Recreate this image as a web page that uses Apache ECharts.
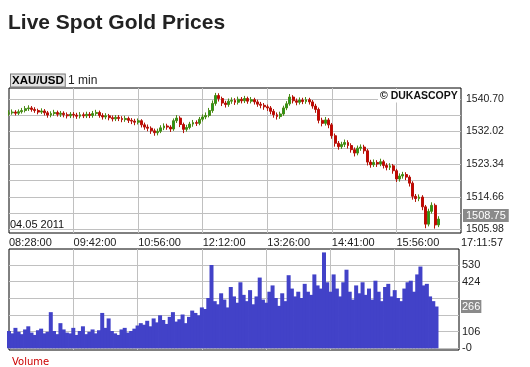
<!DOCTYPE html>
<html><head><meta charset="utf-8">
<script src="https://cdn.jsdelivr.net/npm/echarts@6/dist/echarts.min.js"></script>
<style>
html,body{margin:0;padding:0;background:#fff}
#wrap{position:relative;width:530px;height:367px}
#top{position:absolute;left:0;top:0;width:530px;height:248px}
#vol{position:absolute;left:0;top:248px;width:530px;height:119px}
</style>
</head><body><div id="wrap"><div id="top"></div><div id="vol"></div></div>
<script>
// ---- data ----
const timeLabels = ['08:28:00','09:42:00','10:56:00','12:12:00','13:26:00','14:41:00','15:56:00','17:11:57'];
const slotsPerLabel = 20;           // candles between two time labels
const priceGrid = [1505.98,1510.32,1514.66,1519.00,1523.34,1527.68,1532.02,1536.36,1540.70];
const priceLabels = ['1505.98','1514.66','1523.34','1532.02','1540.70'];
const volumeGrid = [0,106,212,318,424,530];
const volumeLabels = {'530':'530','424':'424','106':'106','0':'-0'};
const lastPrice = 1508.75;
const lastVolume = 266;
const dateText = '04.05 2011';

// [open, close, low, high]
const ohlc = [
[1536.8,1537.0,1536.2,1537.7],[1537.0,1537.2,1536.5,1537.9],[1537.2,1536.9,1536.3,1537.7],[1536.9,1537.3,1536.4,1537.9],
[1537.3,1537.6,1536.8,1538.3],[1537.6,1538.1,1537.1,1538.8],[1538.1,1538.3,1537.5,1539.0],[1538.3,1537.9,1537.3,1538.8],
[1537.9,1537.6,1537.0,1538.5],[1537.6,1537.2,1536.6,1538.1],[1537.2,1537.5,1536.7,1538.2],[1537.5,1537.0,1536.3,1538.0],
[1537.0,1536.4,1535.7,1537.5],[1536.4,1536.8,1535.8,1537.4],[1536.8,1537.1,1536.2,1537.8],[1537.1,1536.6,1536.0,1537.6],
[1536.6,1536.9,1535.9,1537.5],[1536.9,1536.5,1535.8,1537.4],[1536.5,1536.2,1535.5,1537.1],[1536.2,1536.6,1535.6,1537.2],
[1536.6,1536.4,1535.7,1537.2],[1536.4,1536.1,1535.4,1537.0],[1536.1,1536.5,1535.5,1537.2],[1536.5,1536.2,1535.6,1537.1],
[1536.2,1536.6,1535.6,1537.3],[1536.6,1536.3,1535.6,1537.2],[1536.3,1536.8,1535.7,1537.5],[1536.8,1537.1,1536.2,1537.8],
[1537.1,1536.3,1535.7,1537.6],[1536.3,1535.9,1535.2,1536.9],[1535.9,1536.2,1535.3,1536.9],[1536.2,1535.7,1535.0,1536.7],
[1535.7,1535.4,1534.7,1536.3],[1535.4,1535.8,1534.8,1536.4],[1535.8,1535.5,1534.8,1536.4],[1535.5,1535.2,1534.5,1536.1],
[1535.2,1535.5,1534.6,1536.2],[1535.5,1535.0,1534.3,1536.0],[1535.0,1534.8,1534.0,1535.6],[1534.8,1534.5,1533.7,1535.4],
[1534.5,1534.9,1533.9,1535.5],[1534.9,1533.8,1533.1,1535.3],[1533.8,1533.2,1532.5,1534.4],[1533.2,1532.9,1532.1,1533.9],
[1532.9,1532.2,1531.4,1533.4],[1532.2,1531.7,1530.9,1532.8],[1531.7,1532.1,1531.0,1532.8],[1532.1,1533.0,1531.6,1533.7],
[1533.0,1533.5,1532.4,1534.2],[1533.5,1533.2,1532.5,1534.1],[1533.2,1532.7,1531.9,1533.7],[1532.7,1534.9,1532.2,1535.5],
[1534.9,1535.6,1534.3,1536.4],[1535.6,1533.9,1533.2,1536.1],[1533.9,1532.6,1531.6,1534.4],[1532.6,1533.1,1532.0,1533.8],
[1533.1,1534.0,1532.6,1534.6],[1534.0,1534.4,1533.3,1535.1],[1534.4,1534.2,1533.5,1535.0],[1534.2,1535.3,1533.7,1535.9],
[1535.3,1535.9,1534.7,1536.6],[1535.9,1536.3,1535.3,1537.1],[1536.3,1537.6,1535.8,1538.3],[1537.6,1539.5,1537.0,1540.3],
[1539.5,1541.6,1538.9,1542.3],[1541.6,1540.8,1540.0,1542.2],[1540.8,1539.6,1538.8,1541.3],[1539.6,1539.2,1538.4,1540.2],
[1539.2,1540.1,1538.6,1540.8],[1540.1,1540.3,1539.4,1541.1],[1540.3,1539.8,1539.1,1540.9],[1539.8,1540.6,1539.2,1541.3],
[1540.6,1540.2,1539.5,1541.2],[1540.2,1540.8,1539.6,1541.5],[1540.8,1540.1,1539.4,1541.3],[1540.1,1540.5,1539.5,1541.2],
[1540.5,1539.9,1539.2,1541.0],[1539.9,1539.3,1538.6,1540.5],[1539.3,1539.0,1538.2,1539.9],[1539.0,1538.6,1537.8,1539.6],
[1538.6,1538.3,1537.5,1539.2],[1538.3,1537.4,1536.6,1538.8],[1537.4,1536.5,1535.7,1538.0],[1536.5,1536.0,1535.2,1537.1],
[1536.0,1536.7,1535.4,1537.3],[1536.7,1538.3,1536.2,1538.9],[1538.3,1539.4,1537.7,1540.1],[1539.4,1541.2,1538.9,1542.0],
[1541.2,1540.2,1539.5,1541.7],[1540.2,1539.8,1539.0,1540.8],[1539.8,1540.4,1539.2,1541.1],[1540.4,1540.0,1539.3,1541.0],
[1540.0,1540.5,1539.4,1541.2],[1540.5,1539.9,1539.2,1541.0],[1539.9,1538.8,1538.1,1540.4],[1538.8,1537.9,1537.0,1539.4],
[1537.9,1535.0,1534.2,1538.4],[1535.0,1534.2,1533.4,1535.7],[1534.2,1535.1,1533.6,1535.9],[1535.1,1533.8,1532.9,1535.6],
[1533.8,1530.9,1530.1,1534.3],[1530.9,1528.9,1528.0,1531.5],[1528.9,1528.0,1527.2,1529.5],[1528.0,1528.6,1527.4,1529.3],
[1528.6,1529.1,1527.9,1529.9],[1529.1,1528.3,1527.5,1529.7],[1528.3,1527.2,1526.4,1528.9],[1527.2,1526.3,1525.4,1527.8],
[1526.3,1527.6,1525.7,1528.3],[1527.6,1527.9,1526.9,1528.6],[1527.9,1526.9,1526.1,1528.5],[1526.9,1523.9,1523.0,1527.4],
[1523.9,1523.2,1522.4,1524.5],[1523.2,1523.8,1522.6,1524.6],[1523.8,1523.4,1522.6,1524.4],[1523.4,1524.0,1522.8,1524.8],
[1524.0,1523.0,1522.2,1524.5],[1523.0,1522.5,1521.7,1523.6],[1522.5,1522.9,1521.8,1523.6],[1522.9,1521.6,1520.8,1523.4],
[1521.6,1519.4,1518.6,1522.1],[1519.4,1520.2,1518.7,1520.9],[1520.2,1520.6,1519.5,1521.3],[1520.6,1519.9,1519.1,1521.2],
[1519.9,1518.3,1517.4,1520.4],[1518.3,1514.8,1513.9,1518.8],[1514.8,1514.2,1513.3,1515.4],[1514.2,1514.6,1513.5,1515.3],
[1514.6,1512.0,1511.1,1515.1],[1512.0,1507.4,1506.3,1512.5],[1507.4,1510.8,1506.8,1511.5],[1510.8,1512.4,1510.2,1513.2],
[1512.4,1507.2,1506.2,1512.9],[1507.2,1508.75,1506.6,1509.5]
];

const volume = [
110,95,130,105,90,120,140,100,85,115,125,95,105,230,110,90,
160,120,100,95,130,85,110,140,90,105,120,95,115,225,130,190,110,95,85,120,130,100,110,125,145,
160,150,175,140,190,165,210,180,155,200,230,170,185,215,160,200,240,225,
210,260,250,320,530,300,
280,350,310,260,390,330,290,420,340,300,370,280,330,450,310,290,360,400,320,270,350,300,465,380,330,360,
320,410,360,340,470,400,380,610,420,360,
470,380,330,420,500,360,310,400,350,
420,340,380,310,430,360,300,390,410,330,370,320,
300,380,420,430,360,470,520,400,
410,330,300,266
];

// ---- shared settings ----
const nSlots = slotsPerLabel * (timeLabels.length - 1) + 1;
const slots = Array.from({length: nSlots}, (_, i) => String(i));
const FONT = 'Liberation Sans';
const GRID_GREY = '#c0c0c0';
const isLabelSlot = (i) => i % slotsPerLabel === 0;
const vSplit = {show: true, interval: (i) => isLabelSlot(i) && i > 0 && i < nSlots - 1, lineStyle: {color: GRID_GREY, width: 1}};

// ---- price chart ----
const topChart = echarts.init(document.getElementById('top'));
topChart.setOption({
  animation: false,
  backgroundColor: '#fff',
  grid: {left: 9, right: 69, top: 88, bottom: 15, show: true, borderColor: '#000', borderWidth: 1, backgroundColor: 'transparent'},
  xAxis: {type: 'category', data: slots, boundaryGap: false, axisLine: {show: false}, axisTick: {show: false},
    axisLabel: {interval: (i) => isLabelSlot(i), formatter: (v) => timeLabels[Math.round(Number(v) / slotsPerLabel)] || '',
                align: 'left', margin: 4, color: '#222', fontSize: 11, fontFamily: FONT},
    splitLine: vSplit},
  yAxis: {type: 'value', position: 'right', min: 1505.04, max: 1543.60, axisLine: {show: false},
    axisTick: {show: false, customValues: priceGrid}, axisLabel: {show: false, customValues: priceGrid},
    splitLine: {show: true, lineStyle: {color: GRID_GREY, width: 1}}},
  series: [{type: 'candlestick', data: ohlc, barWidth: 2.4, z: 3,
    itemStyle: {color: '#1f9a1f', color0: '#cc0000', borderColor: '#4a8a14', borderColor0: '#b41208', borderWidth: 1},
    markLine: {silent: true, z: 2, symbol: ['none', 'none'], animation: false,
      lineStyle: {color: 'rgba(0,0,0,0)', width: 0},
      label: {show: true, opacity: 1, position: 'end', distance: 5, color: '#222', fontSize: 10.5, fontFamily: FONT, padding: [0, 0, 8, 0],
              formatter: (p) => { const s = Number(p.value).toFixed(2); return priceLabels.includes(s) ? s : ''; }},
      data: priceGrid.map(v => ({yAxis: v})).concat([{
        yAxis: lastPrice,
        label: {show: true, opacity: 1, distance: 2, padding: [0, 0, 7, 0], formatter: '{b|' + lastPrice.toFixed(2) + '}',
                rich: {b: {backgroundColor: '#8a8a8a', color: '#fff', fontSize: 11, fontFamily: FONT, padding: [1, 3, 1, 3], lineHeight: 13}}}
      }])}}],
  graphic: [
    {type: 'text', z: 10, x: 8, y: 23, style: {text: 'Live Spot Gold Prices', font: 'bold 21px Liberation Sans', fill: '#222', verticalAlign: 'middle'}},
    {type: 'text', z: 10, x: 11, y: 80.5, style: {text: 'XAU/USD', font: 'bold 11.5px Liberation Sans', fill: '#000', verticalAlign: 'middle',
       backgroundColor: '#e2e2e2', borderColor: '#7a7a7a', borderWidth: 1, padding: [0, 1, 0, 1]}},
    {type: 'text', z: 10, x: 68, y: 80.5, style: {text: '1 min', font: '12px Liberation Sans', fill: '#222', verticalAlign: 'middle'}},
    {type: 'text', z: 10, x: 378, y: 96, style: {text: '© DUKASCOPY', font: 'bold 10.5px Liberation Sans', fill: '#111', verticalAlign: 'middle',
       backgroundColor: '#fff', padding: [1, 2, 1, 2]}},
    {type: 'text', z: 10, x: 10, y: 225, style: {text: dateText, font: '11px Liberation Sans', fill: '#111', verticalAlign: 'middle'}}
  ]
});

// ---- volume chart ----
const volChart = echarts.init(document.getElementById('vol'));
volChart.setOption({
  animation: false,
  backgroundColor: '#fff',
  grid: {left: 9, right: 71, top: 1, bottom: 17, show: true, borderColor: '#000', borderWidth: 1, backgroundColor: 'transparent'},
  xAxis: {type: 'category', data: slots, boundaryGap: false, axisLine: {show: false}, axisTick: {show: false},
    axisLabel: {show: false}, splitLine: vSplit},
  yAxis: {type: 'value', position: 'right', min: -10.8, max: 631.7, axisLine: {show: false},
    axisTick: {show: false, customValues: volumeGrid}, axisLabel: {show: false, customValues: volumeGrid},
    splitLine: {show: true, lineStyle: {color: GRID_GREY, width: 1}}},
  series: [{type: 'bar', data: volume, barWidth: 4, z: 3, itemStyle: {color: '#4242c8'},
    markLine: {silent: true, z: 2, symbol: ['none', 'none'], animation: false,
      lineStyle: {color: 'rgba(0,0,0,0)', width: 0},
      label: {show: true, opacity: 1, position: 'end', distance: 3, color: '#222', fontSize: 11, fontFamily: FONT, padding: [0, 0, 8, 0],
              formatter: (p) => volumeLabels[String(Math.round(p.value))] || ''},
      data: volumeGrid.map(v => ({yAxis: v})).concat([{
        yAxis: lastVolume,
        label: {show: true, opacity: 1, distance: 2, padding: 0, formatter: '{b|' + lastVolume + '}',
                rich: {b: {backgroundColor: '#8a8a8a', color: '#fff', fontSize: 11, fontFamily: FONT, padding: [1, 1, 1, 1], lineHeight: 13}}}
      }])}}],
  graphic: [
    {type: 'text', z: 10, x: 12, y: 114, style: {text: 'Volume', font: '10px DejaVu Sans', fill: '#cc0000', verticalAlign: 'middle'}}
  ]
});
</script>
</body></html>
